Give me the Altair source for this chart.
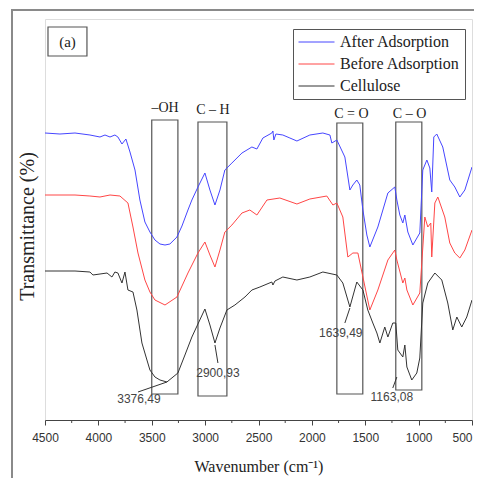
import altair as alt
import pandas as pd

# ---------------- data ----------------
series_names = ["After Adsorption", "Before Adsorption", "Cellulose"]
series_colors = ["#4646ff", "#ff4646", "#333333"]

wn_after = [4500, 4360, 4219, 4079, 3985, 3938, 3891, 3845, 3817, 3779, 3742, 3704, 3657, 3611, 3564,
            3517, 3470, 3423, 3376, 3330, 3264, 3217, 3161, 3124, 3067, 3002, 2955, 2908, 2861, 2815,
            2749, 2655, 2562, 2515, 2459, 2375, 2365, 2356, 2337, 2272, 2206, 2140, 2019, 1897, 1831,
            1813, 1766, 1691, 1644, 1616, 1579, 1551, 1522, 1485, 1457, 1382, 1288, 1223, 1204, 1176,
            1148, 1129, 1101, 1054, 989, 961, 923, 895, 877, 858, 830, 774, 708, 661, 614, 567, 500]
t_after = [287, 286, 287, 285, 283, 285, 283, 285, 283, 276, 281, 268, 250, 220, 198,
           188, 180, 176, 175, 176, 183, 194, 210, 220, 233, 247, 230, 215, 230, 250,
           257, 267, 273, 271, 282, 287, 289, 280, 286, 285, 282, 279, 285, 287, 285,
           277, 280, 263, 230, 235, 240, 235, 210, 185, 173, 193, 227, 233, 220, 205,
           197, 205, 188, 175, 187, 250, 260, 252, 228, 283, 286, 273, 240, 233, 223, 230, 253]

wn_before = [4500, 4219, 4079, 3985, 3891, 3798, 3723, 3676, 3629, 3564, 3517, 3470, 3376, 3264, 3161,
             3067, 3002, 2955, 2908, 2861, 2815, 2749, 2655, 2581, 2515, 2421, 2300, 2140, 2019, 1860,
             1803, 1766, 1710, 1663, 1616, 1569, 1522, 1457, 1382, 1288, 1223, 1204, 1148, 1129, 1110,
             1054, 989, 942, 914, 886, 877, 848, 820, 755, 708, 661, 614, 567, 500]
t_before = [225, 225, 224, 223, 225, 224, 217, 193, 167, 140, 128, 120, 115, 123, 147,
            167, 178, 165, 153, 170, 188, 195, 207, 210, 205, 220, 222, 216, 221, 224,
            215, 217, 203, 163, 167, 167, 143, 110, 130, 160, 170, 160, 137, 142, 130,
            115, 127, 203, 193, 197, 163, 217, 223, 203, 177, 167, 162, 170, 190]

wn_cell = [4500, 4219, 4079, 4051, 3919, 3873, 3845, 3817, 3779, 3751, 3723, 3676, 3639, 3592, 3545,
           3517, 3470, 3423, 3358, 3255, 3189, 3124, 3002, 2955, 2908, 2861, 2796, 2721, 2627, 2562,
           2487, 2375, 2365, 2346, 2272, 2140, 2019, 1897, 1766, 1710, 1644, 1579, 1522, 1476, 1429,
           1391, 1363, 1317, 1288, 1242, 1214, 1195, 1148, 1129, 1110, 1064, 1017, 989, 961, 914,
           848, 783, 727, 680, 642, 596, 549, 500]
t_cell = [149, 149, 148, 145, 147, 143, 148, 147, 137, 148, 130, 128, 110, 77, 60,
          50, 43, 40, 38, 47, 65, 83, 111, 95, 77, 92, 110, 115, 123, 130,
          133, 138, 135, 139, 143, 140, 143, 148, 145, 137, 113, 138, 130, 110, 97,
          87, 77, 93, 83, 97, 97, 70, 63, 75, 53, 40, 47, 62, 117, 137,
          147, 140, 117, 90, 103, 93, 103, 120]

# band boxes
box_labels = ["\u2013OH", "C \u2013 H", "C = O", "C \u2013 O"]
box_wn_hi = [3500, 3067, 1766, 1214]
box_wn_lo = [3255, 2796, 1523, 970]
box_t_lo = [26, 24, 26, 30]
box_t_hi = [300, 298, 297, 298]
box_label_wn = [3376, 2927, 1630, 1085]
box_label_t = [312, 310, 306, 306]

# peak annotations
ann_text = ["3376,49", "2900,93", "1639,49", "1163,08"]
ann_wn = [3620, 2880, 1729, 1251]
ann_t = [21, 47, 87, 23]
lead_wn1 = [3629, 2880, 1691, 1242]
lead_wn2 = [3358, 2908, 1644, 1204]
lead_t1 = [28, 57, 97, 32]
lead_t2 = [38, 75, 112, 43]

# panel tag
tag_text = ["(a)"]
tag_wn1 = [4472]
tag_wn2 = [4107]
tag_t1 = [364]
tag_t2 = [393]

major_ticks = [4500, 4000, 3500, 3000, 2500, 2000, 1500, 1000, 500]
minor_ticks = [4250, 3750, 3250, 2750, 2250, 1750, 1250, 750]

# ---------------- tables ----------------
rows = []
for name, wns, ts in zip(series_names, [wn_after, wn_before, wn_cell], [t_after, t_before, t_cell]):
    for i, (w, t) in enumerate(zip(wns, ts)):
        rows.append({"series": name, "wn": w, "t": t, "i": i})
lines_df = pd.DataFrame(rows)

boxes_df = pd.DataFrame({"label": box_labels, "w1": box_wn_hi, "w2": box_wn_lo,
                         "t1": box_t_lo, "t2": box_t_hi, "lw": box_label_wn, "lt": box_label_t})
ann_df = pd.DataFrame({"text": ann_text, "wn": ann_wn, "t": ann_t,
                       "w1": lead_wn1, "w2": lead_wn2, "t1": lead_t1, "t2": lead_t2})
tag_df = pd.DataFrame({"text": tag_text, "w1": tag_wn1, "w2": tag_wn2, "t1": tag_t1, "t2": tag_t2})
minor_df = pd.DataFrame({"wn": minor_ticks, "a": [-3] * len(minor_ticks), "b": [0] * len(minor_ticks)})

xscale = alt.Scale(domain=[500, 4500], reverse=True, nice=False, zero=False)
yscale = alt.Scale(domain=[0, 401], nice=False, zero=False)

SERIF = "Liberation Serif"
SANS = "Liberation Sans"

x_axis = alt.Axis(values=major_ticks, format="d", ticks=True, tickSize=5, tickColor="#444",
                  labelFlush=False, labelFont=SANS, labelFontSize=12,
                  labelAlign=alt.ExprRef("datum.value == 500 ? 'right' : 'center'"),
                  labelColor="#333", labelPadding=7, domainColor="#444", domainWidth=1.2,
                  grid=False, title="Wavenumber (cm\u207b\u00b9)", titleFont=SERIF,
                  titleFontSize=16, titleFontWeight="normal", titleColor="#222", titlePadding=15)
y_axis = alt.Axis(labels=False, ticks=False, domain=False, grid=False,
                  title="Transmittance (%)", titleFont=SERIF, titleFontSize=20,
                  titleFontWeight="normal", titleColor="#222", titlePadding=8, titleY=207)

lines = alt.Chart(lines_df).mark_line(strokeWidth=1, clip=True).encode(
    x=alt.X("wn:Q", scale=xscale, axis=x_axis),
    y=alt.Y("t:Q", scale=yscale, axis=y_axis),
    color=alt.Color("series:N", scale=alt.Scale(domain=series_names, range=series_colors),
                    legend=alt.Legend(orient="none", legendX=248, legendY=10, title=None,
                                      symbolType="stroke", symbolSize=1296, symbolStrokeWidth=1,
                                      clipHeight=16,
                                      labelFont=SERIF, labelFontSize=16, labelColor="#222",
                                      labelLimit=400, labelOffset=5, strokeColor="#555",
                                      fillColor="white", padding=5, rowPadding=6)),
    order="i:Q",
)

boxes = alt.Chart(boxes_df).mark_rect(fill=None, stroke="#555", strokeWidth=1.2).encode(
    x="w1:Q", x2="w2:Q", y="t1:Q", y2="t2:Q")
box_text = alt.Chart(boxes_df).mark_text(font=SERIF, fontSize=14, color="#222").encode(
    x="lw:Q", y="lt:Q", text="label:N")

leaders = alt.Chart(ann_df).mark_rule(color="#333", strokeWidth=1).encode(
    x="w1:Q", x2="w2:Q", y="t1:Q", y2="t2:Q")
ann_txt = alt.Chart(ann_df).mark_text(font=SANS, fontSize=12, color="#444").encode(
    x="wn:Q", y="t:Q", text="text:N")

tag_box = alt.Chart(tag_df).mark_rect(fill="white", stroke="#555", strokeWidth=1.2).encode(
    x="w1:Q", x2="w2:Q", y="t1:Q", y2="t2:Q")
tag_txt = alt.Chart(tag_df).mark_text(font=SERIF, fontSize=15, color="#222").encode(
    x=alt.X("mid:Q"), y=alt.Y("tm:Q"), text="text:N"
).transform_calculate(mid="(datum.w1 + datum.w2) / 2", tm="(datum.t1 + datum.t2) / 2")

minor = alt.Chart(minor_df).mark_rule(color="#444", strokeWidth=1).encode(
    x="wn:Q", y="a:Q", y2="b:Q")

frame_df = pd.DataFrame({"k": [0]})
outer = alt.Chart(frame_df).mark_rect(fill=None, stroke="#8a8a8a", strokeWidth=2).encode(
    x=alt.value(-33), x2=alt.value(440), y=alt.value(-9), y2=alt.value(480))

chart = alt.layer(outer, boxes, tag_box, tag_txt, box_text, leaders, ann_txt, minor, lines).properties(
    width=427, height=401,
    autosize=alt.AutoSizeParams(type="none"),
    padding={"left": 37, "top": 11, "right": 2, "bottom": 58},
).configure_view(stroke="#8a8a8a", strokeWidth=1.5).configure(background="white")

chart.save("out.html", embed_options={"renderer": "svg", "actions": False})
